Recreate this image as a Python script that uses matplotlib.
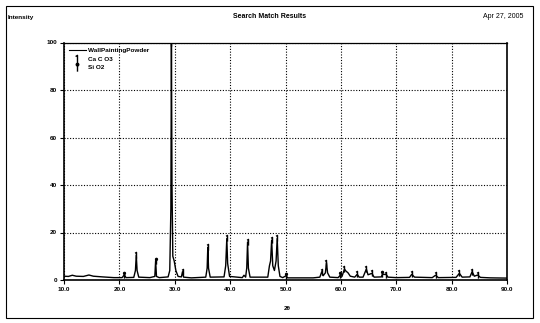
import matplotlib
matplotlib.use("Agg")
import matplotlib.pyplot as plt
from matplotlib.path import Path
from matplotlib.lines import Line2D
from matplotlib.patches import Rectangle

# ---- data ----
two_theta = [10.0, 10.8, 11.5, 12.2, 13.5, 14.5, 15.3, 17.0, 19.0, 20.5, 20.9, 21.2,
             22.6, 22.9, 23.05, 23.2, 23.5, 25.5, 26.4, 26.55, 26.7, 27.2, 28.8, 29.1,
             29.3, 29.4, 29.5, 29.65, 29.9, 30.2, 30.6, 31.2, 31.4, 31.6, 33.0, 35.6,
             35.85, 35.97, 36.1, 36.4, 38.9, 39.2, 39.4, 39.55, 39.9, 42.2, 42.5, 42.8,
             43.0, 43.15, 43.3, 43.6, 46.8, 47.1, 47.3, 47.5, 47.7, 48.0, 48.3, 48.5,
             48.7, 49.0, 49.5, 50.1, 50.4, 55.0, 56.2, 56.55, 56.8, 57.2, 57.4, 57.6,
             58.0, 59.5, 59.9, 60.2, 60.65, 60.9, 61.3, 61.7, 62.5, 62.95, 63.3, 64.0,
             64.6, 64.9, 65.6, 66.0, 67.3, 67.5, 68.2, 68.5, 70.0, 72.4, 72.8, 73.3,
             76.5, 77.1, 77.6, 80.8, 81.4, 81.9, 83.3, 83.7, 84.1, 84.7, 85.2, 87.0, 90.0]
intensity = [1.6, 1.5, 2.0, 1.6, 1.5, 2.1, 1.6, 1.3, 1.0, 1.0, 2.2, 1.0,
             1.1, 4.0, 10.5, 4.0, 1.2, 1.0, 1.5, 8.2, 1.5, 1.0, 1.3, 4.0,
             30.0, 100.0, 40.0, 10.0, 8.0, 4.0, 1.5, 1.3, 3.5, 1.2, 0.9, 1.2,
             5.0, 13.8, 5.0, 1.2, 1.3, 6.0, 17.5, 7.0, 1.5, 1.0, 2.0, 1.2,
             5.0, 16.0, 5.0, 1.2, 1.2, 6.0, 8.0, 16.8, 6.0, 4.0, 8.0, 17.5,
             6.0, 1.5, 1.0, 1.8, 0.9, 0.9, 1.2, 3.5, 1.8, 3.0, 7.3, 3.0,
             1.2, 1.0, 2.0, 1.5, 4.6, 3.8, 3.0, 1.6, 1.2, 2.4, 1.2, 1.2,
             4.6, 2.2, 2.8, 1.2, 1.3, 2.4, 2.3, 1.2, 1.0, 1.1, 2.4, 1.2,
             1.0, 2.0, 1.0, 1.1, 2.8, 1.2, 1.3, 3.5, 1.6, 2.1, 1.1, 0.9, 0.8]

calcite_pos = [23.05, 29.4, 31.4, 35.97, 39.4, 43.15, 47.5, 48.5, 56.55, 57.4,
               60.65, 62.95, 64.6, 65.6, 68.2, 72.8, 77.1, 81.4, 83.7, 84.7]
calcite_int = [10.5, 100.0, 3.5, 13.8, 17.5, 16.0, 16.8, 17.5, 3.5, 7.3,
               4.6, 2.4, 4.6, 2.8, 2.3, 2.4, 2.0, 2.8, 3.5, 2.1]
quartz_pos = [20.9, 26.55, 50.1, 59.9, 67.5]
quartz_int = [2.2, 8.2, 1.8, 2.0, 2.4]

x_ticks = [10, 20, 30, 40, 50, 60, 70, 80, 90]
y_ticks = [0, 20, 40, 60, 80, 100]
series_name = "WallPaintingPowder"
phase_names = ["Ca C O3", "Si O2"]

# ---- figure ----
W, H = 540, 323
fig = plt.figure(figsize=(W / 100, H / 100), dpi=100)
plt.rcParams['font.family'] = ['Liberation Sans', 'DejaVu Sans']
fs = 4.6

ax = fig.add_axes([64 / W, 1 - 280 / H, (507 - 64) / W, (280 - 42.5) / H])

# page border
fig.patches.append(Rectangle((6 / W, 1 - 318 / H), (533 - 6) / W, (318 - 6) / H,
                             transform=fig.transFigure, fill=False,
                             edgecolor='black', linewidth=0.8))

ax.plot(two_theta, intensity, color='black', linewidth=1.0, zorder=3)

# marker shapes: calcite = vertical stick with flag, quartz = stick with knob
calc_path = Path([(0, -1), (0, 1), (-0.45, 0.7)],
                 [Path.MOVETO, Path.LINETO, Path.LINETO])
qtz_path = Path.make_compound_path(
    Path([(0, -1), (0, 0.4)], [Path.MOVETO, Path.LINETO]),
    Path.circle((0, 0.7), 0.3))

ax.plot(calcite_pos, calcite_int, linestyle='none', marker=calc_path,
        markersize=4.5, markeredgecolor='black', markerfacecolor='none',
        markeredgewidth=1.0, zorder=4)
ax.plot(quartz_pos, quartz_int, linestyle='none', marker=qtz_path,
        markersize=4.5, markeredgecolor='black', markerfacecolor='black',
        markeredgewidth=1.0, zorder=4)

ax.set_xlim(10, 90)
ax.set_ylim(0, 100)
ax.set_xticks(x_ticks)
ax.set_xticklabels([f"{v:.1f}" for v in x_ticks], fontsize=fs, fontweight='bold')
ax.set_yticks(y_ticks)
ax.set_yticklabels([str(v) for v in y_ticks], fontsize=fs, fontweight='bold')
ax.tick_params(axis='both', length=3, width=0.8, pad=2, direction='out')

ax.grid(True, color='black', linestyle=(0, (1, 1.5)), linewidth=0.8)
for s in ['left', 'right', 'bottom']:
    ax.spines[s].set_linewidth(1.2)
ax.spines['top'].set_linestyle((0, (3, 1)))
ax.spines['top'].set_linewidth(0.9)

handles = [Line2D([], [], color='black', linewidth=0.8),
           Line2D([], [], linestyle='none', marker=calc_path, markersize=6,
                  markeredgecolor='black', markerfacecolor='none'),
           Line2D([], [], linestyle='none', marker=qtz_path, markersize=6,
                  markeredgecolor='black', markerfacecolor='black')]
leg = ax.legend(handles, [series_name] + phase_names, loc='upper left',
                bbox_to_anchor=(0.0, 1.0), frameon=False,
                prop={'size': fs, 'weight': 'bold'}, handlelength=2.6,
                labelspacing=0.5, handletextpad=0.4, borderaxespad=0.4)

fig.text(8 / W, 1 - 17 / H, "Intensity", fontsize=fs, fontweight='bold',
         ha='left', va='center')
fig.text(270 / W, 1 - 17 / H, "Search Match Results", fontsize=5,
         fontweight='bold', ha='center', va='center')
fig.text(523 / W, 1 - 17 / H, "Apr 27, 2005", fontsize=5, ha='right',
         va='center')
fig.text(287 / W, 1 - 309 / H, "2θ", fontsize=fs, fontweight='bold',
         ha='center', va='center')

fig.savefig("out.png", dpi=100)
